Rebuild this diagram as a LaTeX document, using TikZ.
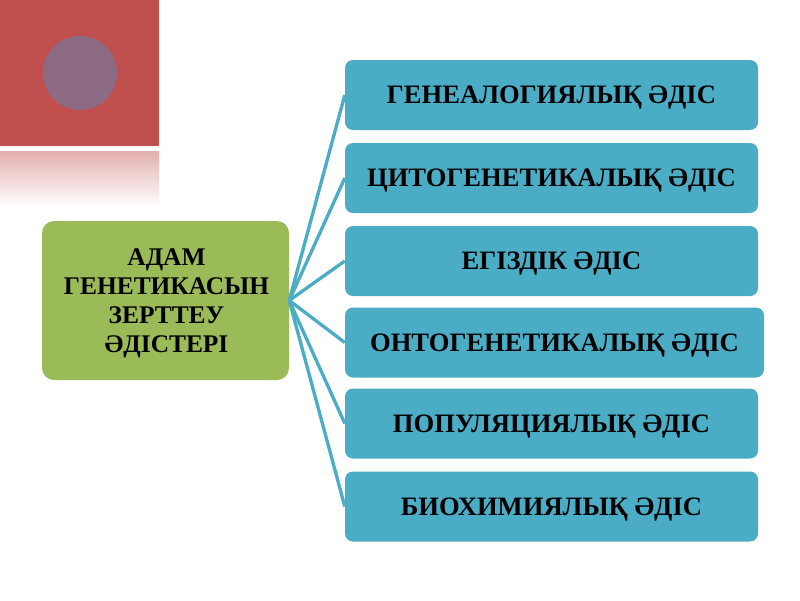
\documentclass[tikz,border=0pt]{standalone}
\usepackage{fontspec}
\setmainfont{Liberation Serif}
\definecolor{redbg}{RGB}{192,80,77}
\definecolor{circ}{RGB}{140,106,131}
\definecolor{greenbox}{RGB}{155,187,89}
\definecolor{bluebox}{RGB}{75,172,198}
\begin{document}
\begin{tikzpicture}[x=1pt,y=-1pt,
  method/.style={draw=none,fill=bluebox,rounded corners=8pt,minimum width=413pt,minimum height=70pt,font=\fontsize{26.6}{30}\selectfont\bfseries,inner sep=0pt,text height=17.6pt,text depth=0pt},
  root/.style={draw=none,fill=greenbox,rounded corners=12pt,minimum width=247pt,minimum height=159pt,inner sep=0pt},
  rootlabel/.style={font=\fontsize{25.4}{29}\selectfont\bfseries,align=center,inner sep=0pt},
  link/.style={draw=bluebox,line width=3.3pt}]
\useasboundingbox (0,0) rectangle (800,600);
\fill[white] (0,0) rectangle (800,600);
% decoration
\fill[redbg] (0,0) rectangle (159,146);
\fill[circ] (80,73) circle (37);
\shade[top color=redbg!45!white,bottom color=white] (0,151) rectangle (159,207);
% nodes
\node[root] (r) at (165.5,300.5) {};
\node[rootlabel] (rt) at (166.5,303) {АДАМ\\ГЕНЕТИКАСЫН\\ЗЕРТТЕУ\\ӘДІСТЕРІ};
\node[method] (m1) at (551.5,95) {ГЕНЕАЛОГИЯЛЫҚ ӘДІС};
\node[method] (m2) at (551.5,178) {ЦИТОГЕНЕТИКАЛЫҚ ӘДІС};
\node[method] (m3) at (551.5,261) {ЕГІЗДІК ӘДІС};
\node[method,minimum width=419pt] (m4) at (554.5,342.5) {ОНТОГЕНЕТИКАЛЫҚ ӘДІС};
\node[method] (m5) at (551.5,423.5) {ПОПУЛЯЦИЯЛЫҚ ӘДІС};
\node[method] (m6) at (551.5,506.5) {БИОХИМИЯЛЫҚ ӘДІС};
% connectors
\foreach \m in {m1,m2,m3,m4,m5,m6}
  \draw[link] (r.east) -- (\m.west);
\end{tikzpicture}
\end{document}
